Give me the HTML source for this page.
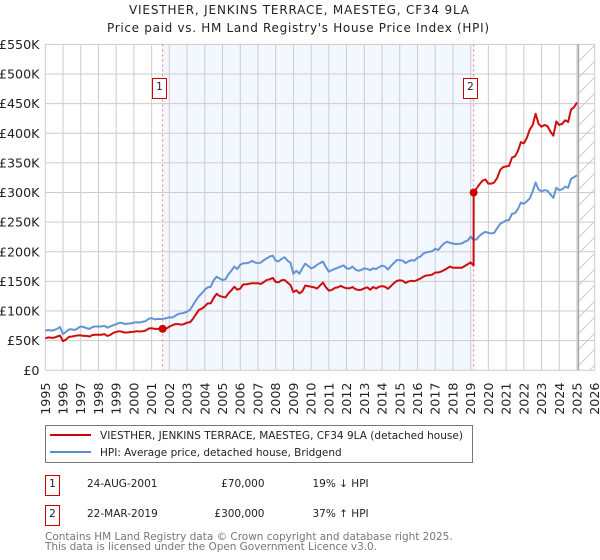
<!DOCTYPE html>
<html lang="en">
<head>
<meta charset="utf-8">
<title>VIESTHER, JENKINS TERRACE, MAESTEG, CF34 9LA</title>
<style>
html,body{margin:0;padding:0;background:#fff;}
body{width:600px;height:560px;overflow:hidden;}
svg{display:block;font-family:"DejaVu Sans","Liberation Sans",sans-serif;}
</style>
</head>
<body>
<svg id="chart" xmlns="http://www.w3.org/2000/svg" width="600" height="560" viewBox="0 0 600 560">
  <defs>
    <pattern id="hatch" patternUnits="userSpaceOnUse" width="16" height="16" x="580" y="44">
      <path d="M-2 18L18 -2M-2 2L2 -2M14 18L18 14" stroke="#ccc" stroke-width="1" fill="none"/>
    </pattern>
  </defs>
  <text x="299" y="14" text-anchor="middle" font-size="12" fill="#222" textLength="340" lengthAdjust="spacing">VIESTHER, JENKINS TERRACE, MAESTEG, CF34 9LA</text>
  <text x="298" y="32" text-anchor="middle" font-size="12" fill="#222" textLength="382" lengthAdjust="spacing">Price paid vs. HM Land Registry's House Price Index (HPI)</text>
  <g id="plot"></g>

  <g>
    <rect x="45.5" y="425.5" width="427" height="37" fill="#fff" stroke="#777"/>
    <line x1="50" x2="91" y1="435" y2="435" stroke="#c00" stroke-width="2"/>
    <text x="100" y="439" font-size="10.5" fill="#222" textLength="363" lengthAdjust="spacing">VIESTHER, JENKINS TERRACE, MAESTEG, CF34 9LA (detached house)</text>
    <line x1="50" x2="91" y1="452" y2="452" stroke="#5b8fd2" stroke-width="2"/>
    <text x="100" y="456" font-size="10.5" fill="#222" textLength="241.7" lengthAdjust="spacing">HPI: Average price, detached house, Bridgend</text>
  </g>

  <g font-size="10.5" fill="#222">
    <rect x="45.5" y="475.5" width="14" height="20" fill="#fff" stroke="#c00"/>
    <text x="52.5" y="487" text-anchor="middle">1</text>
    <text x="87" y="487">24-AUG-2001</text>
    <text x="264.5" y="487" text-anchor="end">£70,000</text>
    <text x="312.5" y="487">19% ↓ HPI</text>
  </g>
  <g font-size="10.5" fill="#222">
    <rect x="45.5" y="505.5" width="14" height="20" fill="#fff" stroke="#c00"/>
    <text x="52.5" y="517" text-anchor="middle">2</text>
    <text x="87" y="517">22-MAR-2019</text>
    <text x="264.5" y="517" text-anchor="end">£300,000</text>
    <text x="312.5" y="517">37% ↑ HPI</text>
  </g>

  <text x="45" y="540" font-size="10.5" fill="#777" textLength="407.7" lengthAdjust="spacing">Contains HM Land Registry data © Crown copyright and database right 2025.</text>
  <text x="45" y="550" font-size="10.5" fill="#777" textLength="332" lengthAdjust="spacing">This data is licensed under the Open Government Licence v3.0.</text>
</svg>
<script>
const tickYears = [1995,1996,1997,1998,1999,2000,2001,2002,2003,2004,2005,2006,2007,2008,2009,2010,2011,2012,2013,2014,2015,2016,2017,2018,2019,2020,2021,2022,2023,2024,2025,2026];
const tickValues = [0,50,100,150,200,250,300,350,400,450,500,550];
const tickLabels = ["£0","£50K","£100K","£150K","£200K","£250K","£300K","£350K","£400K","£450K","£500K","£550K"];
const seriesStartYear = 1995;
const samplesPerYear = 6;
const hpiValues = [
 67,68,67,68,70,73,
 61,65,69,69,68,71,
 74,73,71,70,73,74,
 74,74,75,72,74,76,
 78,80,80,78,79,79,
 80.5,81,80.5,82,83,87,
 88,86,86.6,86.6,87,88,
 89.5,89,92,95,96,97,
 99,102,110,118,125,130,
 136,140,141,152,158,155,
 152.5,153.6,162,168,175,171,
 178,180.6,180.6,181.8,184.6,182,
 180.6,182,186,189,192,193.6,
 185,184,188,190.8,185,181.8,
 163,168,163,172,180,176,
 172,174,178,181,183.5,174,
 166.5,169,171,173,175,177,
 172,171.5,175,170,168,169.4,
 172,171,169,172,171,174,
 176.7,175,170,176,181,186,
 186,185,181,184,186,185,
 190,192,197,199,200,201,
 205,203,209,214,217,215,
 214,213,213.5,214,217,219,
 225.7,220,221,227,231,233.5,
 232,231,232,240,247,250,
 252.7,253.7,264,265,272,283,
 281,285,290,302,317,305,
 302,304,303,297,291,308,
 304,305.6,310,308,323,326,
 329
];
const priceValues = [
 54,55.5,55,55,57,58.5,
 49,52,56.5,57,58,59,
 59,58,58,57,59.6,60,
 60,60,61,58,59.6,63,
 64.7,66,65,63.6,64,64.7,
 65,66,65.5,66,67,70.5,
 71,70,70,70,70,70.5,
 73.7,76,78,78,77,78,
 80.5,81,87,94.5,102,104,
 108,113,113,122,129,125.5,
 124,123,130,135,141,136,
 138,145,145,146,147,147,
 147,145.7,149,152.5,153.6,156,
 149,148.5,152,152.5,148,144,
 132,135,130,133,143,142,
 141,140,138,143,148,140,
 134.5,135.6,139,140,142.5,140,
 138.4,138.4,140.5,137,135.6,136,
 138.4,140,136,140.5,138,141,
 142,141,137.5,142,147,150.8,
 152,151,147.5,150,151,150.5,
 152.5,155,158,160,160.5,161.5,
 165,165,166.6,169,172,175,
 173,173,173,173,176,179,
 182,176.7,307,314,320,322,
 315,315,317,325,338,343,
 344,345,359,361,370,385,
 383,392,406,414,433,416,
 411,414,412,403,396,420,
 414,416,422,419,440,444,
 452
];
const saleYears = [2001.62,2019.17];
const salePrices = [70,300];
const saleLabels = ["1","2"];
const forecastStartYear = 2025.08;

const NS = 'http://www.w3.org/2000/svg';
const plot = document.getElementById('plot');
const left = 45.3, right = 594.7, top_ = 44.4, bottom = 370.3;
const yearMin = 1995, yearMax = 2026, valueMax = 550;
function xScale(year){ return left + (year - yearMin) / (yearMax - yearMin) * (right - left); }
function yScale(value){ return bottom - value / valueMax * (bottom - top_); }
function make(tag, attrs){
  const el = document.createElementNS(NS, tag);
  for (const k in attrs) el.setAttribute(k, attrs[k]);
  plot.appendChild(el);
  return el;
}
function seriesPoints(values){
  return values.map(function(v, i){ return [seriesStartYear + i / samplesPerYear, v]; });
}

// Shaded span between the two sales
const span = make('rect', {x: xScale(saleYears[0]), y: top_, width: xScale(saleYears[1]) - xScale(saleYears[0]), height: bottom - top_, fill: '#f3f7ff'});



// Gridlines and axis labels
tickYears.forEach(function(year){
  const x = xScale(year);
  const line = make('line', {x1: x, x2: x, y1: top_, y2: bottom, stroke: '#ccc', 'stroke-width': 1});
  
  
  const label = make('text', {x: 0, y: 0, 'font-size': 12.7, fill: '#222', 'text-anchor': 'end', transform: 'translate(' + (x + 4.5) + ',382.5) rotate(-90)'});
  label.textContent = year;
  
  
});
tickValues.forEach(function(value, i){
  const y = yScale(value);
  const line = make('line', {x1: left, x2: right, y1: y, y2: y, stroke: '#ccc', 'stroke-width': 1});
  
  
  const label = make('text', {x: 39.5, y: y + 4.5, 'font-size': 12.7, fill: '#222', 'text-anchor': 'end'});
  label.textContent = tickLabels[i];
  
  
});

// Forecast / no-data hatched region
const hatch = make('rect', {x: xScale(forecastStartYear), y: top_, width: right - xScale(forecastStartYear), height: bottom - top_, fill: 'url(#hatch)'});


const dataEnd = make('line', {x1: xScale(forecastStartYear), x2: xScale(forecastStartYear), y1: top_, y2: bottom, stroke: '#aaa', 'stroke-width': 1.5});



// Sale date markers
saleYears.forEach(function(year){
  const x = xScale(year);
  const line = make('line', {x1: x, x2: x, y1: top_, y2: bottom, stroke: '#f77', 'stroke-width': 1, 'stroke-dasharray': '2,3'});
  
  
});

// Series
function pathFrom(points){
  return points.map(function(p, i){
    return (i ? 'L' : 'M') + xScale(p[0]).toFixed(2) + ' ' + yScale(p[1]).toFixed(2);
  }).join('');
}
const hpiLine = make('path', {d: pathFrom(seriesPoints(hpiValues)), fill: 'none', stroke: '#5b8fd2', 'stroke-width': 2, 'stroke-linejoin': 'round', opacity: 0.95});



const pricePoints = seriesPoints(priceValues);
saleYears.forEach(function(year, i){ pricePoints.push([year, salePrices[i]]); });
pricePoints.sort(function(a, b){ return a[0] - b[0]; });
const priceLine = make('path', {d: pathFrom(pricePoints), fill: 'none', stroke: '#c00', 'stroke-width': 2, 'stroke-linejoin': 'round', opacity: 0.95});



// Sale markers and badges
saleYears.forEach(function(year, i){
  const x = xScale(year);
  const dot = make('circle', {cx: x, cy: yScale(salePrices[i]), r: 4, fill: '#c00'});
  
  
  const boxLeft = Math.round(x - 10.5) + 0.5;
  const badge = make('rect', {x: boxLeft, y: 78.5, width: 14, height: 20, fill: '#fff', stroke: '#c00'});
  
  
  const num = make('text', {x: boxLeft + 7, y: 90, 'font-size': 10.5, fill: '#222', 'text-anchor': 'middle'});
  num.textContent = saleLabels[i];
  
  
});
</script>
</body>
</html>
